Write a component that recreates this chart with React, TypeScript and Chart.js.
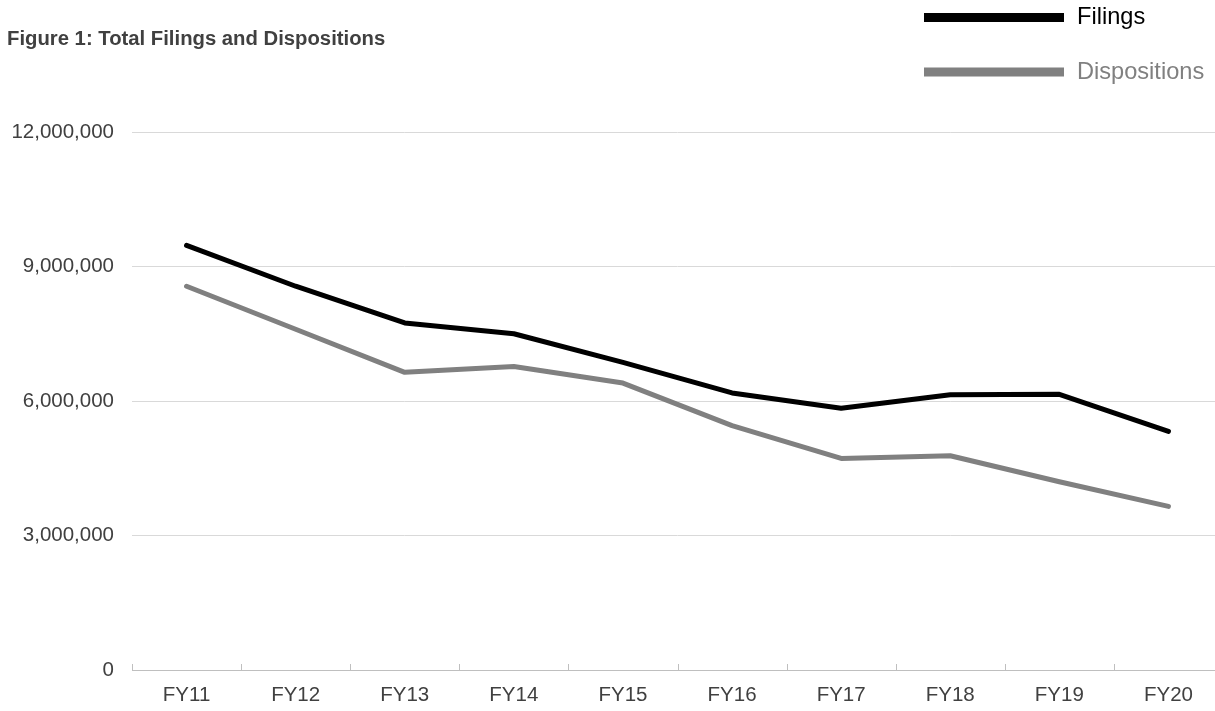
import React, { useEffect, useRef } from "react";
import { Chart, registerables } from "chart.js";

Chart.register(...registerables);

const TITLE = "Figure 1: Total Filings and Dispositions";
const CATEGORIES = ["FY11", "FY12", "FY13", "FY14", "FY15", "FY16", "FY17", "FY18", "FY19", "FY20"];
const FILINGS = [9470000, 8560000, 7740000, 7500000, 6860000, 6180000, 5840000, 6140000, 6150000, 5320000];
const DISPOSITIONS = [8560000, 7600000, 6640000, 6770000, 6400000, 5450000, 4720000, 4780000, 4200000, 3650000];
const SERIES_NAMES = ["Filings", "Dispositions"];
const SERIES_COLORS = ["#000000", "#808080"];
const Y_MIN = 0;
const Y_MAX = 12000000;
const Y_STEP = 3000000;

const FONT = "'Liberation Sans', Arial, Helvetica, sans-serif";

const decorPlugin = {
  id: "decor",
  afterDraw(chart: any) {
    const ctx = chart.ctx;
    const xs = chart.scales.x;
    const area = chart.chartArea;
    ctx.save();
    // inside tick marks on the category axis
    ctx.strokeStyle = "#bfbfbf";
    ctx.lineWidth = 1;
    const n = chart.data.labels.length;
    for (let i = 0; i <= n; i++) {
      const x = Math.round(xs.getPixelForValue(i - 0.5)) + 0.5;
      ctx.beginPath();
      ctx.moveTo(x, area.bottom - 6);
      ctx.lineTo(x, area.bottom);
      ctx.stroke();
    }
    // title
    ctx.fillStyle = "#404040";
    ctx.font = `bold 20.3px ${FONT}`;
    ctx.textAlign = "left";
    ctx.textBaseline = "alphabetic";
    ctx.fillText(TITLE, 7, 45);
    // legend
    const ds = chart.data.datasets;
    const ys = [17.5, 72];
    ctx.font = `23.6px ${FONT}`;
    ds.forEach((d: any, i: number) => {
      ctx.fillStyle = d.borderColor;
      ctx.fillRect(924, ys[i] - 4.5, 140, 9);
      ctx.textBaseline = "middle";
      ctx.fillText(d.label, 1077, ys[i]);
    });
    ctx.restore();
  },
};

export default function App() {
  const ref = useRef<HTMLCanvasElement | null>(null);
  useEffect(() => {
    if (!ref.current) return;
    const chart = new Chart(ref.current, {
      type: "line",
      data: {
        labels: CATEGORIES,
        datasets: [
          {
            label: SERIES_NAMES[0],
            data: FILINGS,
            borderColor: SERIES_COLORS[0],
            backgroundColor: SERIES_COLORS[0],
            borderWidth: 5,
            pointRadius: 0,
            borderCapStyle: "round",
            borderJoinStyle: "round",
            tension: 0,
          },
          {
            label: SERIES_NAMES[1],
            data: DISPOSITIONS,
            borderColor: SERIES_COLORS[1],
            backgroundColor: SERIES_COLORS[1],
            borderWidth: 5,
            pointRadius: 0,
            borderCapStyle: "round",
            borderJoinStyle: "round",
            tension: 0,
          },
        ],
      },
      options: {
        responsive: false,
        animation: false,
        devicePixelRatio: 1,
        layout: { padding: { top: 132, right: 17, bottom: 0, left: 0 } },
        plugins: {
          legend: { display: false },
          title: { display: false },
          tooltip: { enabled: false },
        },
        scales: {
          x: {
            type: "category",
            offset: true,
            afterFit: (scale: any) => {
              scale.height = 41;
            },
            grid: { display: false },
            border: { display: true, color: "#bfbfbf", width: 1 },
            ticks: {
              color: "#404040",
              font: { family: FONT, size: 20.5 },
              padding: 5,
              maxRotation: 0,
              autoSkip: false,
            },
          },
          y: {
            min: Y_MIN,
            max: Y_MAX,
            afterFit: (scale: any) => {
              scale.width = 132;
            },
            grid: {
              drawTicks: false,
              color: (c: any) => (c.tick && c.tick.value === 0 ? "rgba(0,0,0,0)" : "#d9d9d9"),
              lineWidth: 1,
            },
            border: { display: false },
            ticks: {
              stepSize: Y_STEP,
              color: "#404040",
              font: { family: FONT, size: 20.5 },
              padding: 18,
              callback: (v: any) => Number(v).toLocaleString("en-US"),
            },
          },
        },
      },
      plugins: [decorPlugin],
    } as any);
    return () => chart.destroy();
  }, []);
  return (
    <div style={{ position: "fixed", left: 0, top: 0, width: 1215, height: 711, overflow: "hidden", background: "#fff" }}>
      <canvas ref={ref} width={1240} height={711} style={{ display: "block" }} />
    </div>
  );
}
